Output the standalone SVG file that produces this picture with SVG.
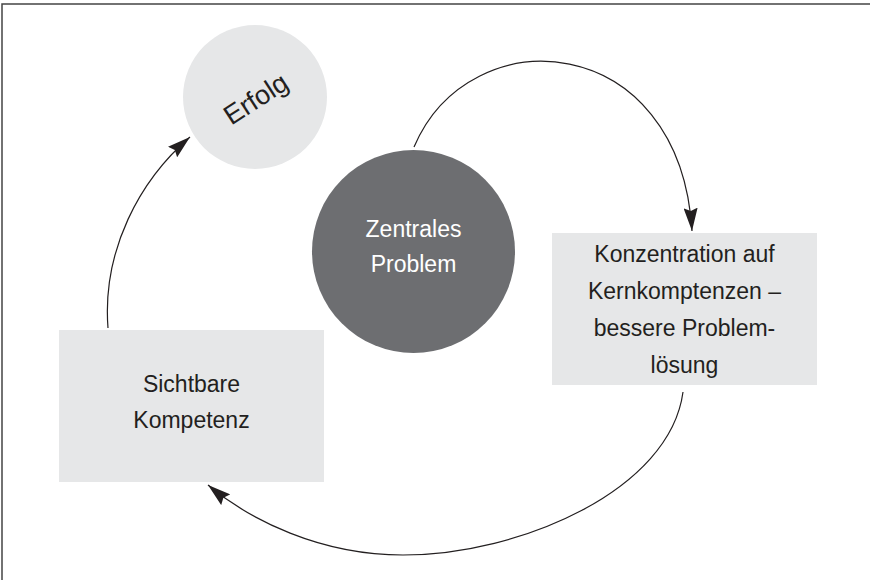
<svg xmlns="http://www.w3.org/2000/svg" width="870" height="580" viewBox="0 0 870 580">
  <style>
    .lbl { font-family: "Liberation Sans", Arial, sans-serif; font-size: 23px; fill: #231f20; text-anchor: middle; }
    .wht { fill: #ffffff; }
    .light { fill: #e6e7e8; }
    .conn { fill: none; stroke: #231f20; stroke-width: 1.2; marker-end: url(#arrow); }
  </style>
  <defs>
    <marker id="arrow" markerUnits="userSpaceOnUse" markerWidth="25" markerHeight="14" refX="23" refY="7" orient="auto">
      <path d="M0,0 L23,7 L0,14 L3,7 z" fill="#231f20"/>
    </marker>
  </defs>
  <rect width="870" height="580" fill="#ffffff"/>
  <path d="M2,580 L2,4 L870,4" fill="none" stroke="#444444" stroke-width="1.5"/>

  <g id="erfolg">
    <circle class="light" cx="255" cy="97" r="72"/>
    <text class="lbl" x="256" y="108" style="font-size:27px" transform="rotate(-33 256 99)">Erfolg</text>
  </g>

  <g id="zentrales-problem">
    <circle cx="413.5" cy="251.5" r="101.5" fill="#6d6e71"/>
    <text class="lbl wht" x="413.5" y="237">Zentrales</text>
    <text class="lbl wht" x="413.5" y="272">Problem</text>
  </g>

  <g id="konzentration">
    <rect class="light" x="552" y="233" width="265" height="152"/>
    <text class="lbl" x="684.5" y="262">Konzentration auf</text>
    <text class="lbl" x="684.5" y="299">Kernkomptenzen –</text>
    <text class="lbl" x="684.5" y="336">bessere Problem-</text>
    <text class="lbl" x="684.5" y="373">lösung</text>
  </g>

  <g id="sichtbare-kompetenz">
    <rect class="light" x="59" y="330" width="265" height="152"/>
    <text class="lbl" x="191.5" y="392">Sichtbare</text>
    <text class="lbl" x="191.5" y="428">Kompetenz</text>
  </g>

  <g id="connectors">
    <path class="conn" d="M414,147 C 470,15 680,30 692,231"/>
    <path class="conn" d="M683,392 C 670,490 520,555 403,555 C 320,555 250,520 208,485"/>
    <path class="conn" d="M108,328 C 102,250 140,180 190,137"/>
  </g>
</svg>
